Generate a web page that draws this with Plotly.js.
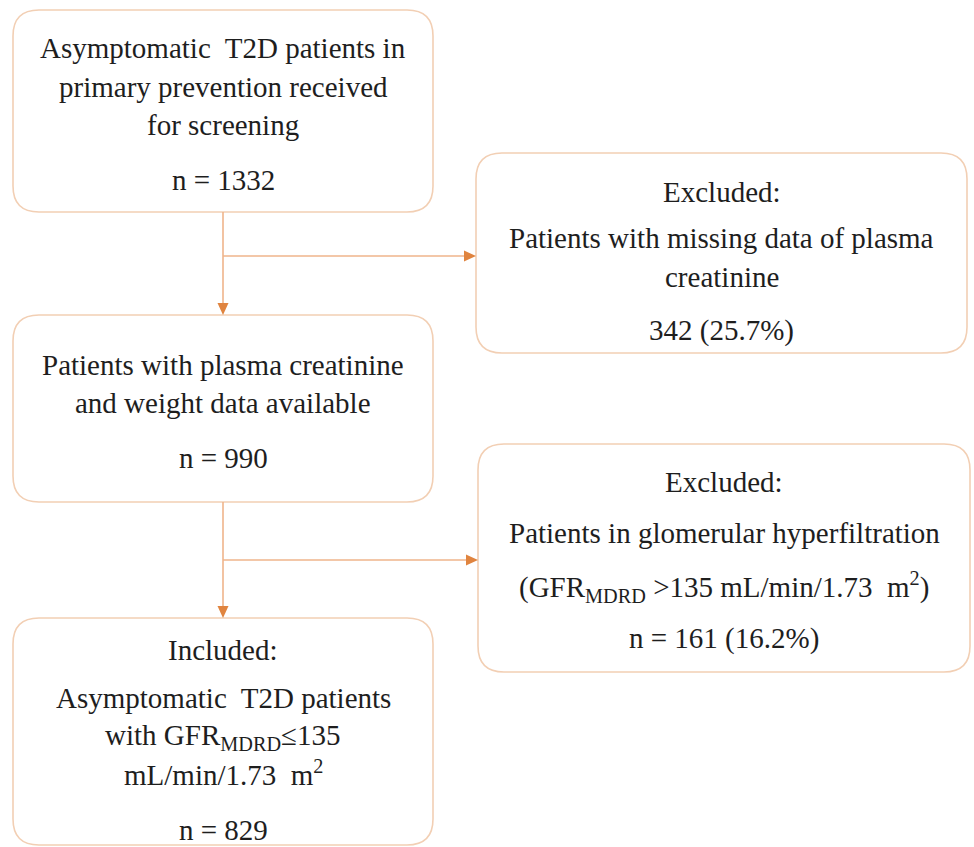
<!DOCTYPE html>
<html>
<head>
<meta charset="utf-8">
<script src="https://cdn.plot.ly/plotly-3.0.1.min.js"></script>
<style>
  html, body { margin: 0; padding: 0; background: #ffffff; }
  #chart { width: 974px; height: 847px; }
</style>
</head>
<body>
<div id="chart"></div>
<script>
// ---------------- DATA ----------------
const nodeHeaders = ["", "", "Included:", "Excluded:", "Excluded:"];
const nodeTexts = [
  ["Asymptomatic\u00a0 T2D patients in", "primary prevention received", "for screening"],
  ["Patients with plasma creatinine", "and weight data available"],
  ["Asymptomatic\u00a0 T2D patients", "with GFR<sub>MDRD</sub>\u2264135", "mL/min/1.73\u00a0 m<sup>2</sup>"],
  ["Patients with missing data of plasma", "creatinine"],
  ["Patients in glomerular hyperfiltration", "(GFR<sub>MDRD</sub> >135 mL/min/1.73\u00a0 m<sup>2</sup>)"]
];
const nodeCounts = [1332, 990, 829, 342, 161];
const nodePercents = [null, null, null, 25.7, 16.2];
const countPrefix = ["n = ", "n = ", "n = ", "", "n = "];

// ---------------- LAYOUT GEOMETRY ----------------
const W = 974, H = 847;
const boxes = [
  {x0: 13,  x1: 433, y0: 10,  y1: 212, lines: [48, 87, 125, 180]},
  {x0: 13,  x1: 433, y0: 315, y1: 502, lines: [365, 403, 458]},
  {x0: 13,  x1: 433, y0: 618, y1: 845, lines: [650, 698, 737, 773, 830]},
  {x0: 476, x1: 967, y0: 153, y1: 353, lines: [192, 238, 277, 330]},
  {x0: 478, x1: 970, y0: 444, y1: 672, lines: [482, 533, 587, 638]}
];
const spineX = 223;
const connectors = [
  {from: 0, to: 1, branch: 3, by: 256},
  {from: 1, to: 2, branch: 4, by: 560}
];

const boxLine = "#f2cfb4";
const arrowLine = "#efb48b";
const arrowHead = "#e0843f";
const textColor = "#1e1e1e";
const fontFam = "Liberation Serif";
const fontSize = 29;
const R = 26;

function roundRect(b) {
  const {x0, x1, y0, y1} = b;
  return `M${x0 + R},${y0} L${x1 - R},${y0} Q${x1},${y0} ${x1},${y0 + R} ` +
         `L${x1},${y1 - R} Q${x1},${y1} ${x1 - R},${y1} L${x0 + R},${y1} ` +
         `Q${x0},${y1} ${x0},${y1 - R} L${x0},${y0 + R} Q${x0},${y0} ${x0 + R},${y0} Z`;
}
function headDown(x, y) {
  return `M${x},${y} L${x - 5.5},${y - 12} L${x + 5.5},${y - 12} Z`;
}
function headRight(x, y) {
  return `M${x},${y} L${x - 12},${y - 5.5} L${x - 12},${y + 5.5} Z`;
}

const shapes = [];
boxes.forEach(b => {
  shapes.push({type: "path", xref: "x", yref: "y", path: roundRect(b),
    line: {color: boxLine, width: 1.6}, fillcolor: "rgba(255,255,255,0)"});
});
connectors.forEach(c => {
  const a = boxes[c.from], t = boxes[c.to], br = boxes[c.branch];
  shapes.push({type: "line", xref: "x", yref: "y", x0: spineX, x1: spineX, y0: a.y1, y1: t.y0 - 2,
    line: {color: arrowLine, width: 1.6}});
  shapes.push({type: "path", xref: "x", yref: "y", path: headDown(spineX, t.y0),
    fillcolor: arrowHead, line: {color: arrowHead, width: 0}});
  shapes.push({type: "line", xref: "x", yref: "y", x0: spineX, x1: br.x0 - 2, y0: c.by, y1: c.by,
    line: {color: arrowLine, width: 1.6}});
  shapes.push({type: "path", xref: "x", yref: "y", path: headRight(br.x0, c.by),
    fillcolor: arrowHead, line: {color: arrowHead, width: 0}});
});

const annotations = [];
boxes.forEach((b, i) => {
  const cx = (b.x0 + b.x1) / 2;
  const lines = [];
  if (nodeHeaders[i]) lines.push(nodeHeaders[i]);
  nodeTexts[i].forEach(t => lines.push(t));
  let cnt = countPrefix[i] + nodeCounts[i];
  if (nodePercents[i] !== null) cnt += " (" + nodePercents[i].toFixed(1) + "%)";
  lines.push(cnt);
  lines.forEach((t, k) => {
    annotations.push({x: cx, y: b.lines[k], xref: "x", yref: "y", text: t, showarrow: false,
      xanchor: "center", yanchor: "middle",
      font: {family: fontFam, size: fontSize, color: textColor}});
  });
});

const layout = {
  width: W, height: H,
  margin: {l: 0, r: 0, t: 0, b: 0},
  paper_bgcolor: "#ffffff", plot_bgcolor: "#ffffff",
  font: {family: fontFam, size: fontSize, color: textColor},
  xaxis: {range: [0, W], visible: false, fixedrange: true},
  yaxis: {range: [H, 0], visible: false, fixedrange: true},
  showlegend: false,
  shapes: shapes,
  annotations: annotations
};

Plotly.newPlot("chart", [], layout, {staticPlot: true, displayModeBar: false});
</script>
</body>
</html>
